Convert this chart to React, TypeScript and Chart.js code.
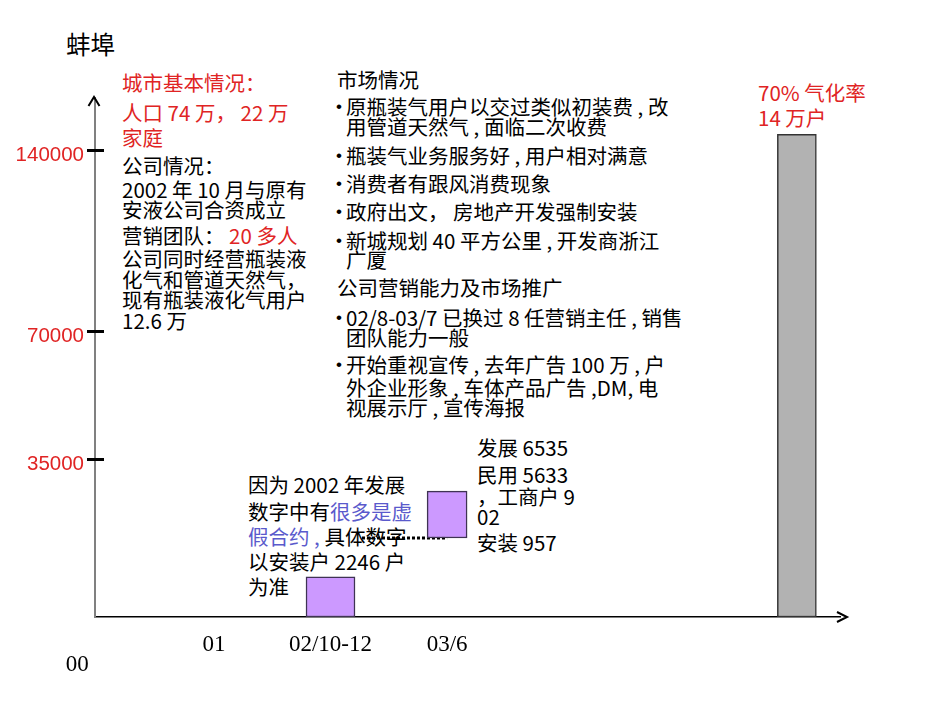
import React, { useEffect, useRef } from "react";
import { Chart, registerables, LinearScale } from "chart.js";

// ---------- data ----------
const xTickValues = [0, 1, 2, 3];
const xTickLabels = ["00", "01", "02/10-12", "03/6"];
const yTickValues = [35000, 70000, 140000];
const yTickLabels = ["35000", "70000", "140000"];
const barX = [2, 3, 6];
const barLow = [0, 17500, 0];
const barHigh = [8900, 27900, 146000];
const connectorX = [2.27, 3];
const connectorY = [17500, 17500];
// the drawn value axis of the slide is piecewise linear
const yBreakValues = [0, 35000, 70000, 140000, 160000];
const yBreakFractions = [0, 0.3044, 0.5511, 0.8998, 1];

const RED = "#e02424";
const BLUE = "#5a5acc";
const CJK = '"Noto Sans CJK SC", "Liberation Sans", sans-serif';

function valueToDecimal(v: number): number {
  const vs = yBreakValues;
  const fs = yBreakFractions;
  for (let i = 1; i < vs.length; i++) {
    if (v <= vs[i] || i === vs.length - 1) {
      return fs[i - 1] + ((v - vs[i - 1]) * (fs[i] - fs[i - 1])) / (vs[i] - vs[i - 1]);
    }
  }
  return 1;
}
function decimalToValue(d: number): number {
  const vs = yBreakValues;
  const fs = yBreakFractions;
  for (let i = 1; i < fs.length; i++) {
    if (d <= fs[i] || i === fs.length - 1) {
      return vs[i - 1] + ((d - fs[i - 1]) * (vs[i] - vs[i - 1])) / (fs[i] - fs[i - 1]);
    }
  }
  return vs[vs.length - 1];
}

class PiecewiseScale extends (LinearScale as any) {
  static id = "piecewise";
  static defaults = (LinearScale as any).defaults;
  getPixelForValue(value: any) {
    if (value === null || value === undefined || isNaN(value)) return NaN;
    return (this as any).getPixelForDecimal(valueToDecimal(+value));
  }
  getValueForPixel(pixel: number) {
    return decimalToValue((this as any).getDecimalForPixel(pixel));
  }
}

Chart.register(...registerables, PiecewiseScale as any);

const axisDecor = {
  id: "axisDecor",
  afterDraw(chart: any) {
    const { ctx, chartArea, scales } = chart;
    const { left, top, right, bottom } = chartArea;
    ctx.save();
    ctx.strokeStyle = "#000";
    ctx.lineWidth = 3;
    for (const v of yTickValues) {
      const py = Math.round(scales.y.getPixelForValue(v)) + 0.5;
      ctx.beginPath();
      ctx.moveTo(left - 8, py);
      ctx.lineTo(left + 9, py);
      ctx.stroke();
    }
    ctx.lineWidth = 2;
    ctx.beginPath();
    ctx.moveTo(left - 6.5, top + 8);
    ctx.lineTo(left - 1, top - 1);
    ctx.lineTo(left + 4.5, top + 8);
    ctx.stroke();
    ctx.beginPath();
    ctx.moveTo(right - 3, bottom - 5);
    ctx.lineTo(right + 7, bottom);
    ctx.lineTo(right - 3, bottom + 5);
    ctx.stroke();
    ctx.restore();
  },
};

function Txt(props: { x: number; y: number; color?: string; size?: number; font?: string; children: any }) {
  const { x, y, color = "#000", size = 20.5, font = CJK, children } = props;
  return (
    <div
      style={{
        position: "absolute",
        left: x,
        top: y - 13,
        fontFamily: font,
        fontSize: size,
        lineHeight: "24px",
        color,
        whiteSpace: "pre",
      }}
    >
      {children}
    </div>
  );
}

function Bullet(props: { y: number; text: string }) {
  return (
    <>
      <Txt x={336} y={props.y + 1} size={17} font='"Liberation Sans", sans-serif'>•</Txt>
      <Txt x={346} y={props.y}>{props.text}</Txt>
    </>
  );
}

export default function App() {
  const canvasRef = useRef<HTMLCanvasElement>(null);

  useEffect(() => {
    const barStyles = [
      { bg: "#cc99ff", border: "#3f3353", thickness: 49 },
      { bg: "#cc99ff", border: "#3f3353", thickness: 40 },
      { bg: "#b2b2b2", border: "#333333", thickness: 39 },
    ];
    const datasets: any[] = barX.map((x, i) => ({
      type: "bar",
      data: [{ x, y: [barLow[i], barHigh[i]] }],
      backgroundColor: barStyles[i].bg,
      borderColor: barStyles[i].border,
      borderWidth: 1.5,
      borderSkipped: false,
      barThickness: barStyles[i].thickness,
      grouped: false,
      order: 0,
    }));
    datasets.push({
      type: "line",
      data: connectorX.map((x, i) => ({ x, y: connectorY[i] })),
      borderColor: "#000",
      borderWidth: 3,
      borderDash: [3, 2],
      pointRadius: 0,
      fill: false,
      tension: 0,
      order: 1,
    });

    const chart = new Chart(canvasRef.current as HTMLCanvasElement, {
      type: "bar",
      data: { datasets },
      plugins: [axisDecor],
      options: {
        animation: false,
        responsive: true,
        maintainAspectRatio: false,
        layout: { padding: { left: 0, top: 98, right: 110, bottom: 0 } },
        plugins: {
          legend: { display: false },
          tooltip: { enabled: false },
        },
        scales: {
          x: {
            type: "linear",
            offset: false,
            min: -0.02,
            max: 6.37,
            grid: { display: false, drawTicks: false, offset: false },
            border: { display: true, color: "#000", width: 1.5 },
            afterBuildTicks: (s: any) => {
              s.ticks = xTickValues.map((v) => ({ value: v }));
            },
            afterFit: (s: any) => {
              s.height = 96;
            },
            ticks: {
              autoSkip: false,
              maxRotation: 0,
              padding: 18.5,
              color: "#000",
              font: { family: '"Liberation Serif", serif', size: 23, lineHeight: 0.86 },
              callback: (_v: any, i: number) =>
                i === 0 ? ["", xTickLabels[0] + "       "] : xTickLabels[i],
            },
          },
          y: {
            type: "piecewise" as any,
            min: 0,
            max: 160000,
            grid: { display: false, drawTicks: false },
            border: { display: true, color: "#808080", width: 2 },
            afterBuildTicks: (s: any) => {
              s.ticks = yTickValues.map((v) => ({ value: v }));
            },
            afterFit: (s: any) => {
              s.width = 95;
            },
            ticks: {
              autoSkip: false,
              padding: 11,
              labelOffset: 5,
              color: RED,
              font: { family: '"Liberation Sans", Arial, sans-serif', size: 20.5 },
              callback: (_v: any, i: number) => yTickLabels[i],
            },
          },
        } as any,
      },
    } as any);
    return () => chart.destroy();
  }, []);

  return (
    <div
      style={{
        position: "absolute",
        left: 0,
        top: 0,
        width: 950,
        height: 713,
        background: "#fff",
        overflow: "hidden",
      }}
    >
      <div style={{ position: "absolute", inset: 0, zIndex: 1 }}>
        <Txt x={66} y={45} size={24.5}>蚌埠</Txt>

        <Txt x={122} y={83} color={RED}>城市基本情况：</Txt>
        <Txt x={122} y={113} color={RED}>人口 74 万， 22 万</Txt>
        <Txt x={122} y={138} color={RED}>家庭</Txt>
        <Txt x={122} y={166}>公司情况：</Txt>
        <Txt x={122} y={190}>2002 年 10 月与原有</Txt>
        <Txt x={122} y={210}>安液公司合资成立</Txt>
        <Txt x={122} y={236}>
          营销团队： <span style={{ color: RED }}>20 多人</span>
        </Txt>
        <Txt x={122} y={259}>公司同时经营瓶装液</Txt>
        <Txt x={122} y={280}>化气和管道天然气，</Txt>
        <Txt x={122} y={300}>现有瓶装液化气用户</Txt>
        <Txt x={122} y={321}>12.6 万</Txt>

        <Txt x={337} y={80}>市场情况</Txt>
        <Bullet y={107} text="原瓶装气用户以交过类似初装费 , 改" />
        <Txt x={346} y={127}>用管道天然气 , 面临二次收费</Txt>
        <Bullet y={156} text="瓶装气业务服务好 , 用户相对满意" />
        <Bullet y={184} text="消费者有跟风消费现象" />
        <Bullet y={212} text="政府出文， 房地产开发强制安装" />
        <Bullet y={241} text="新城规划 40 平方公里 , 开发商浙江" />
        <Txt x={346} y={260}>广厦</Txt>
        <Txt x={337} y={288}>公司营销能力及市场推广</Txt>
        <Bullet y={318} text="02/8-03/7 已换过 8 任营销主任 , 销售" />
        <Txt x={346} y={338}>团队能力一般</Txt>
        <Bullet y={365} text="开始重视宣传 , 去年广告 100 万 , 户" />
        <Txt x={346} y={388}>外企业形象 , 车体产品广告 ,DM, 电</Txt>
        <Txt x={346} y={408}>视展示厅 , 宣传海报</Txt>

        <Txt x={248} y={485}>因为 2002 年发展</Txt>
        <Txt x={248} y={512}>
          数字中有<span style={{ color: BLUE }}>很多是虚</span>
        </Txt>
        <Txt x={248} y={537}>
          <span style={{ color: BLUE }}>假合约 ,</span> 具体数字
        </Txt>
        <Txt x={248} y={562}>以安装户 2246 户</Txt>
        <Txt x={248} y={587}>为准</Txt>

        <Txt x={477} y={448}>发展 6535</Txt>
        <Txt x={477} y={475}>民用 5633</Txt>
        <Txt x={477} y={497}>，工商户 9</Txt>
        <Txt x={477} y={517}>02</Txt>
        <Txt x={477} y={543}>安装 957</Txt>

        <Txt x={758} y={93} color={RED}>70% 气化率</Txt>
        <Txt x={758} y={118} color={RED}>14 万户</Txt>
      </div>
      <div style={{ position: "absolute", inset: 0, zIndex: 2, pointerEvents: "none" }}>
        <canvas ref={canvasRef} />
      </div>
    </div>
  );
}
